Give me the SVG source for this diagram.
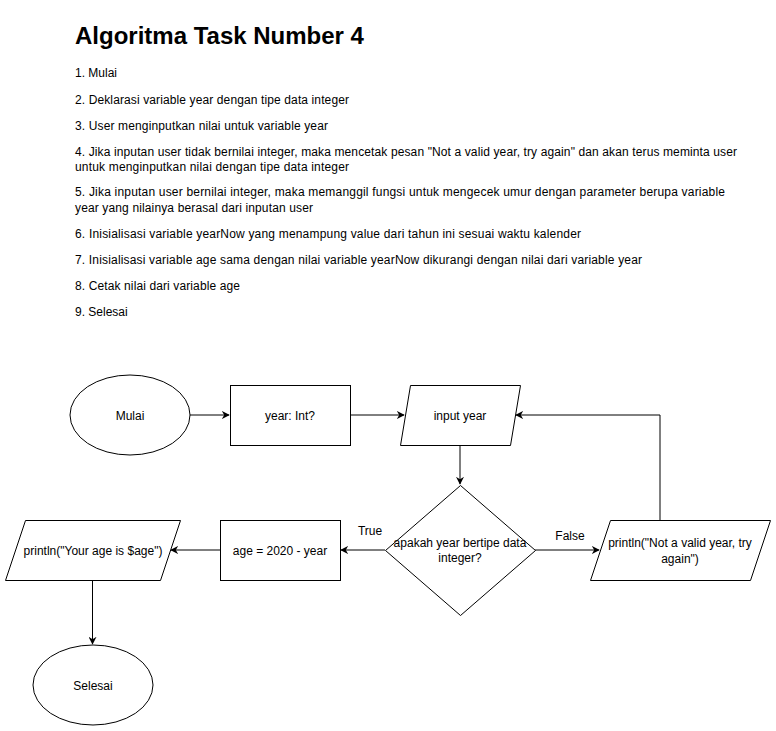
<svg xmlns="http://www.w3.org/2000/svg" width="776" height="731" viewBox="0 0 776 731">
<defs>
<style>
text{font-family:"Liberation Sans",Arial,sans-serif;font-size:12px;fill:#000}
.title{font-size:24px;font-weight:bold}
.c{text-anchor:middle}
.s{fill:#fff;stroke:#000;stroke-width:1}
.e{fill:none;stroke:#000;stroke-width:1}
</style>
<marker id="arr" viewBox="0 0 10 10" refX="9" refY="5" markerWidth="8" markerHeight="8" markerUnits="userSpaceOnUse" orient="auto">
<path d="M0,0 L10,5 L0,10 L3,5 Z" fill="#000"/>
</marker>
</defs>
<rect width="776" height="731" fill="#fff"/>
<g id="description">
<text class="title" x="75" y="44">Algoritma Task Number 4</text>
<text x="75" y="77">1. Mulai</text>
<text x="75" y="104" textLength="274" lengthAdjust="spacing">2. Deklarasi variable year dengan tipe data integer</text>
<text x="75" y="130" textLength="253" lengthAdjust="spacing">3. User menginputkan nilai untuk variable year</text>
<text x="75" y="156" textLength="662" lengthAdjust="spacing">4. Jika inputan user tidak bernilai integer, maka mencetak pesan "Not a valid year, try again" dan akan terus meminta user</text>
<text x="75" y="171" textLength="274" lengthAdjust="spacing">untuk menginputkan nilai dengan tipe data integer</text>
<text x="75" y="196" textLength="650" lengthAdjust="spacing">5. Jika inputan user bernilai integer, maka memanggil fungsi untuk mengecek umur dengan parameter berupa variable</text>
<text x="75" y="212" textLength="238" lengthAdjust="spacing">year yang nilainya berasal dari inputan user</text>
<text x="75" y="238" textLength="506" lengthAdjust="spacing">6. Inisialisasi variable yearNow yang menampung value dari tahun ini sesuai waktu kalender</text>
<text x="75" y="264" textLength="567" lengthAdjust="spacing">7. Inisialisasi variable age sama dengan nilai variable yearNow dikurangi dengan nilai dari variable year</text>
<text x="75" y="290" textLength="165" lengthAdjust="spacing">8. Cetak nilai dari variable age</text>
<text x="75" y="316">9. Selesai</text>
</g>
<g id="connectors">
<line class="e" x1="190" y1="415" x2="229" y2="415" marker-end="url(#arr)"/>
<line class="e" x1="350" y1="415" x2="404" y2="415" marker-end="url(#arr)"/>
<line class="e" x1="460" y1="445" x2="460" y2="484" marker-end="url(#arr)"/>
<line class="e" x1="535" y1="550" x2="599" y2="550" marker-end="url(#arr)"/>
<polyline class="e" points="660,520 660,415 516,415" marker-end="url(#arr)"/>
<line class="e" x1="385" y1="550" x2="341" y2="550" marker-end="url(#arr)"/>
<line class="e" x1="220" y1="550" x2="171" y2="550" marker-end="url(#arr)"/>
<line class="e" x1="92.5" y1="580" x2="92.5" y2="644" marker-end="url(#arr)"/>
<text class="c" x="370" y="535">True</text>
<text class="c" x="570" y="540">False</text>
</g>
<g id="mulai">
<ellipse class="s" cx="130" cy="415" rx="60" ry="40"/>
<text class="c" x="130" y="420">Mulai</text>
</g>
<g id="declare">
<rect class="s" x="230.5" y="385.5" width="120" height="60"/>
<text class="c" x="290" y="420">year: Int?</text>
</g>
<g id="input">
<polygon class="s" points="410.5,385.5 520.5,385.5 510.5,445.5 400.5,445.5"/>
<text class="c" x="460" y="420">input year</text>
</g>
<g id="decision">
<polygon class="s" points="460.5,485.5 535.5,550.5 460.5,615.5 385.5,550.5"/>
<text class="c" x="460" y="547">apakah year bertipe data</text>
<text class="c" x="460" y="562">integer?</text>
</g>
<g id="invalid">
<polygon class="s" points="610.5,520.5 770.5,520.5 750.5,580.5 590.5,580.5"/>
<text class="c" x="680" y="547">println("Not a valid year, try</text>
<text class="c" x="680" y="563">again")</text>
</g>
<g id="age">
<rect class="s" x="220.5" y="520.5" width="120" height="60"/>
<text class="c" x="280" y="555">age = 2020 - year</text>
</g>
<g id="print">
<polygon class="s" points="25.5,520.5 180.5,520.5 160.5,580.5 5.5,580.5"/>
<text class="c" x="93" y="555">println("Your age is $age")</text>
</g>
<g id="selesai">
<ellipse class="s" cx="93" cy="685" rx="60" ry="40"/>
<text class="c" x="93" y="690">Selesai</text>
</g>
</svg>
